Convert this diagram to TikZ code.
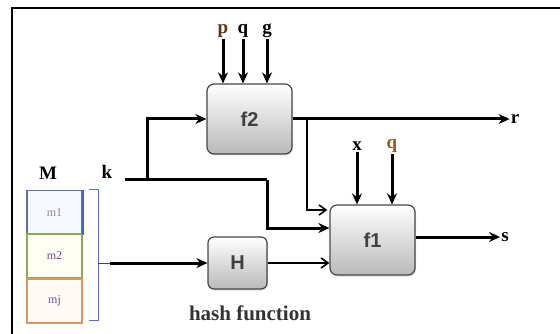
\documentclass[tikz,border=0pt]{standalone}
\usepackage{fontspec}
\setmainfont{Liberation Serif}
\setsansfont{Liberation Sans}
\usetikzlibrary{arrows.meta,shadows}
\definecolor{boxline}{RGB}{70, 70, 70}
\definecolor{boxgrey}{RGB}{185, 185, 185}
\definecolor{braceblue}{RGB}{95, 110, 200}
\definecolor{mblue}{RGB}{70, 100, 200}
\definecolor{mgreen}{RGB}{140, 170, 80}
\definecolor{morange}{RGB}{220, 150, 90}
\definecolor{mtext}{RGB}{110, 80, 150}
\definecolor{qbrown}{RGB}{150, 90, 30}
\tikzset{
  fbox/.style={draw=boxline, line width=1.2pt, rounded corners=7pt, top color=white,
    bottom color=boxgrey, minimum width=85pt, minimum height=70pt,
    font=\fontsize{20}{23}\sffamily\bfseries, text=black!75,
    drop shadow={opacity=0.25, shadow xshift=1pt, shadow yshift=-1.5pt}},
  lbl/.style={font=\fontsize{19}{22}\selectfont\bfseries, inner sep=1pt},
  mcell/.style={draw=#1, line width=1.8pt, minimum width=55pt, minimum height=44pt,
    font=\fontsize{12}{14}\selectfont, text=mtext},
  fat/.style={line width=3pt, -{Stealth[length=11pt, width=10pt]}},
  slim/.style={line width=1.6pt, -{Straight Barb[length=7pt, width=10pt]}},
}
\begin{document}
\begin{tikzpicture}[x=1pt, y=-1pt]
    \useasboundingbox (0,0) rectangle (560,334);
    % frame
    \draw[line width=2.2pt] (12,334) -- (12,8) -- (560,8);

    % function blocks
    \node[fbox] (f2) at (249.5,119) {f2};
    \node[fbox] (f1) at (372.5,240) {f1};
    \node[fbox, minimum width=59pt, minimum height=52pt, rounded corners=6pt] (hash) at (237.5,263) {H};
    \node[lbl, font=\fontsize{21}{24}\selectfont\bfseries, text=black!80] (hashlbl) at (250,313) {hash function};

    % message blocks
    \node[mcell=mblue!60!gray, fill=blue!3, text=black!45] (m1) at (54.5,212.5) {m1};
    \node[mcell=mgreen, fill=yellow!4] (m2) at (54.5,256) {m2};
    \node[mcell=morange, fill=orange!4] (mj) at (54.5,301) {mj};
    \draw[mblue, line width=1.8pt] (m1.north east) -- (m1.south east);
    \node[lbl] (M) at (48,173) {M};
    \node[lbl] (k) at (107,172) {k};

    % brace over the message blocks
    \coordinate (bt) at (98,190);
    \coordinate (bb) at (98,320);
    \coordinate (bm) at (98,263);
    \draw[braceblue, line width=1pt] ([xshift=-9pt]bt) -- (bt) -- (bb) -- ([xshift=-9pt]bb);
    \draw[braceblue!60!black, line width=1pt] (bm) -- ++(12,0) coordinate (hin);
    \draw[fat] (hin) -- (hash.west);

    % inputs of f2
    \node[lbl, text=qbrown!60!black] (p) at (223,31) {p};
    \node[lbl] (q2) at (243,31) {q};
    \node[lbl] (g) at (267,31) {g};
    \foreach \n in {p,q2,g}
        \draw[fat] (\n.south) -- (\n.south |- f2.north);

    % inputs of f1
    \node[lbl] (x) at (357,146) {x};
    \node[lbl, text=qbrown] (q1) at (392,146) {q};
    \foreach \n in {x,q1}
        \draw[fat] (\n.south) -- (\n.south |- f1.north);

    % key lines
    \coordinate (kstart) at (125,180);
    \coordinate (kbranch) at (147,180);
    \coordinate (kturn) at (267,180);
    \draw[line width=3pt] (kstart) -- (kturn);
    \draw[fat] (kbranch) |- (f2.west);
    \draw[fat] (kturn) |- ([yshift=12pt]f1.west);

    % outputs
    \node[lbl] (r) at (515,119) {r};
    \node[lbl] (s) at (505,237) {s};
    \draw[fat] (f2.east) -- (r.west);
    \draw[fat] (f1.east |- s) -- (s.west);
    \coordinate (rbranch) at (307,119);
    \draw[slim] (rbranch) |- ([yshift=30pt, xshift=-2pt]f1.west);
    \draw[slim] (hash.east) -- (hash.east -| f1.west);
\end{tikzpicture}
\end{document}
